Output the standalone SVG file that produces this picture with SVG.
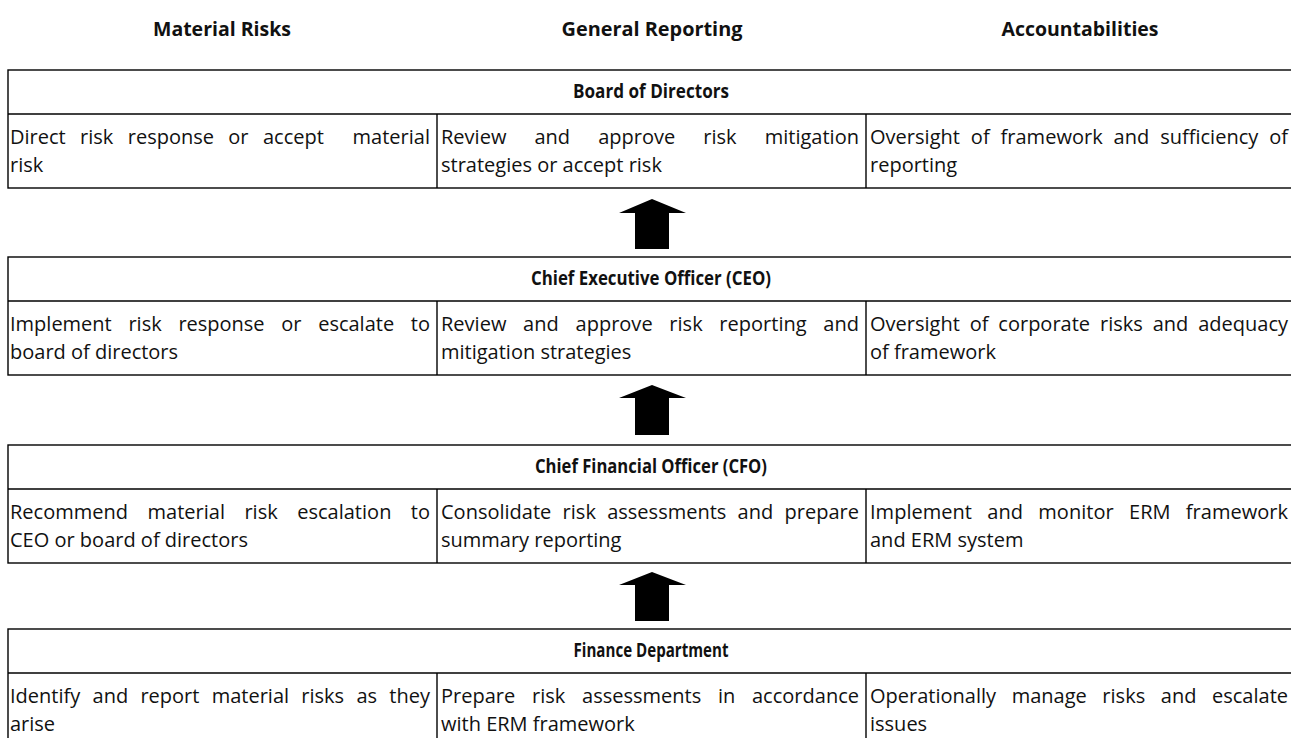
<svg xmlns="http://www.w3.org/2000/svg" width="1291" height="738" viewBox="0 0 1291 738">
<style>
.ln{stroke:#000;stroke-width:1.4;fill:none}
.t{font-family:"Open Sans","Liberation Sans",sans-serif;font-size:20px;fill:#111}
.b{font-family:"Open Sans","Liberation Sans",sans-serif;font-size:19px;font-weight:bold;fill:#111}
.arr{fill:#000}
</style>
<rect width="1291" height="738" fill="#fff"/>
<g id="column-headers">
<text class="b" x="222" y="36" text-anchor="middle" textLength="138" lengthAdjust="spacingAndGlyphs">Material Risks</text>
<text class="b" x="652" y="36" text-anchor="middle" textLength="181" lengthAdjust="spacingAndGlyphs">General Reporting</text>
<text class="b" x="1080" y="36" text-anchor="middle" textLength="157" lengthAdjust="spacingAndGlyphs">Accountabilities</text>
</g>
<g id="board">
<rect class="ln" x="8" y="70" width="1287" height="118"/>
<line class="ln" x1="8" y1="114" x2="1295" y2="114"/>
<line class="ln" x1="437" y1="114" x2="437" y2="188"/>
<line class="ln" x1="866" y1="114" x2="866" y2="188"/>
<text class="b" x="651" y="98" text-anchor="middle" textLength="156" lengthAdjust="spacingAndGlyphs">Board of Directors</text>
<text class="t" x="10" y="144" xml:space="preserve" word-spacing="9.2" textLength="420" lengthAdjust="spacing">Direct risk response or accept  material</text>
<text class="t" x="10" y="172">risk</text>
<text class="t" x="441" y="144" word-spacing="22.8" textLength="418" lengthAdjust="spacing">Review and approve risk mitigation</text>
<text class="t" x="441" y="172">strategies or accept risk</text>
<text class="t" x="870" y="144" word-spacing="5.7" textLength="418" lengthAdjust="spacing">Oversight of framework and sufficiency of</text>
<text class="t" x="870" y="172">reporting</text>
</g>
<g id="ceo">
<rect class="ln" x="8" y="257" width="1287" height="118"/>
<line class="ln" x1="8" y1="301" x2="1295" y2="301"/>
<line class="ln" x1="437" y1="301" x2="437" y2="375"/>
<line class="ln" x1="866" y1="301" x2="866" y2="375"/>
<text class="b" x="651" y="285" text-anchor="middle" textLength="240" lengthAdjust="spacingAndGlyphs">Chief Executive Officer (CEO)</text>
<text class="t" x="10" y="331" word-spacing="11.5" textLength="420" lengthAdjust="spacing">Implement risk response or escalate to</text>
<text class="t" x="10" y="359">board of directors</text>
<text class="t" x="441" y="331" word-spacing="11.5" textLength="418" lengthAdjust="spacing">Review and approve risk reporting and</text>
<text class="t" x="441" y="359">mitigation strategies</text>
<text class="t" x="870" y="331" word-spacing="4.7" textLength="418" lengthAdjust="spacing">Oversight of corporate risks and adequacy</text>
<text class="t" x="870" y="359">of framework</text>
</g>
<g id="cfo">
<rect class="ln" x="8" y="445" width="1287" height="118"/>
<line class="ln" x1="8" y1="489" x2="1295" y2="489"/>
<line class="ln" x1="437" y1="489" x2="437" y2="563"/>
<line class="ln" x1="866" y1="489" x2="866" y2="563"/>
<text class="b" x="651" y="473" text-anchor="middle" textLength="232" lengthAdjust="spacingAndGlyphs">Chief Financial Officer (CFO)</text>
<text class="t" x="10" y="519" word-spacing="14.2" textLength="420" lengthAdjust="spacing">Recommend material risk escalation to</text>
<text class="t" x="10" y="547">CEO or board of directors</text>
<text class="t" x="441" y="519" word-spacing="6.1" textLength="418" lengthAdjust="spacing">Consolidate risk assessments and prepare</text>
<text class="t" x="441" y="547">summary reporting</text>
<text class="t" x="870" y="519" word-spacing="10.1" textLength="418" lengthAdjust="spacing">Implement and monitor ERM framework</text>
<text class="t" x="870" y="547">and ERM system</text>
</g>
<g id="finance">
<rect class="ln" x="8" y="629" width="1287" height="118"/>
<line class="ln" x1="8" y1="673" x2="1295" y2="673"/>
<line class="ln" x1="437" y1="673" x2="437" y2="747"/>
<line class="ln" x1="866" y1="673" x2="866" y2="747"/>
<text class="b" x="651" y="657" text-anchor="middle" textLength="155" lengthAdjust="spacingAndGlyphs">Finance Department</text>
<text class="t" x="10" y="703" word-spacing="7.1" textLength="420" lengthAdjust="spacing">Identify and report material risks as they</text>
<text class="t" x="10" y="731">arise</text>
<text class="t" x="441" y="703" word-spacing="11.5" textLength="418" lengthAdjust="spacing">Prepare risk assessments in accordance</text>
<text class="t" x="441" y="731">with ERM framework</text>
<text class="t" x="870" y="703" word-spacing="10.4" textLength="418" lengthAdjust="spacing">Operationally manage risks and escalate</text>
<text class="t" x="870" y="731">issues</text>
</g>
<g id="connectors">
<polygon class="arr" points="652,199 686,213 669,213 669,249 635,249 635,213 619,213"/>
<polygon class="arr" points="652,385 686,398 669,398 669,435 635,435 635,398 619,398"/>
<polygon class="arr" points="652,572 686,585 669,585 669,621 635,621 635,585 619,585"/>
</g>
</svg>
